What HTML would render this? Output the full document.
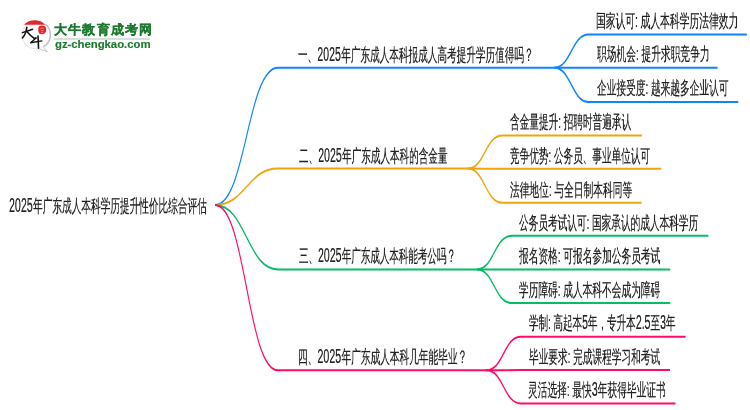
<!DOCTYPE html>
<html><head><meta charset="utf-8"><style>
html,body{margin:0;padding:0;background:#fff;}
body{width:750px;height:410px;position:relative;overflow:hidden;font-family:"Liberation Sans",sans-serif;}
svg.lines{position:absolute;left:0;top:0;}
svg.lines path{fill:none;stroke-width:2;}
.t{position:absolute;white-space:nowrap;font-size:18px;line-height:18px;height:18px;color:#222;-webkit-text-stroke:0.22px #222;transform-origin:0 0;will-change:transform;}
.t .d{font-size:20px;}
.logo{position:absolute;left:0;top:0;}
.brand{position:absolute;left:53.6px;top:21.6px;will-change:transform;font-size:12.5px;line-height:16px;letter-spacing:1.2px;font-weight:bold;color:#1C7A2E;-webkit-text-stroke:0.25px #1C7A2E;white-space:nowrap;}
.bline{position:absolute;left:54px;top:38.3px;width:96px;height:1.5px;background:#d6e1d9;}
.url{position:absolute;left:54.6px;top:37.6px;will-change:transform;font-size:11.4px;line-height:12px;letter-spacing:-0.05px;font-weight:bold;color:#1C7A2E;-webkit-text-stroke:0.15px #1C7A2E;white-space:nowrap;}
</style></head><body>
<svg class="logo" width="160" height="60" viewBox="0 0 160 60">
<circle cx="36" cy="35" r="14" fill="#fff" stroke="#dcdcdc" stroke-width="0.9"/>
<path d="M45.5,24 A14,14 0 0 1 43.5,46.8" fill="none" stroke="#b8b8b8" stroke-width="1.1"/>
<path d="M43,46.8 L47.4,51.8 L38.5,48.6" fill="#fff" stroke="#c4c4c4" stroke-width="0.9"/>
<path d="M24,24.7 A14.6,14.6 0 0 1 45.2,24.7 Z" fill="#E3262B"/>
<path d="M38.4,27.5 Q39,25.3 42.5,25.5 Q46.3,25.8 46.2,29.5 Q46.4,33.8 42.3,34.2 Q38.6,34.3 38.3,31 Z" fill="#E3262B"/>
<path d="M40.3,28.3 h3.5 M40.8,30.6 h3 M41.2,32.4 h2.2" stroke="#f4b8b8" stroke-width="0.6"/>
<g stroke="#111" fill="none" stroke-linecap="round" stroke-linejoin="round">
<path d="M22.4,32.6 Q27.5,31.2 32.6,29.2" stroke-width="1.5"/>
<path d="M26.8,27.2 Q26.3,33.5 22.4,38" stroke-width="1.6"/>
<path d="M27.3,32.1 Q30.5,35.8 34.1,38.4 L36,38" stroke-width="1.5"/>
<path d="M36,38 L30.7,42.8 L41.9,40.9" stroke-width="1.4"/>
<path d="M38,36 Q38.4,42 38.5,48.2" stroke-width="1.6"/>
</g>
</svg>
<div class="brand" id="brand">大牛教育成考网</div>
<div class="bline"></div>
<div class="url" id="url">gz-chengkao.com</div>
<svg class="lines" width="750" height="410" viewBox="0 0 750 410"><g transform="scale(0.538,1)">
<path d="M399.78,204.9 C457.26,204.9 459.20,67.7 516.69,67.7 L1029.93,67.7" stroke="#0C84FF"/>
<path d="M1029.93,67.7 C1062.08,67.7 1062.08,34.4 1094.24,34.4 L1388.10,34.4" stroke="#0C84FF"/>
<path d="M1029.93,67.7 C1062.08,67.7 1062.08,67.7 1094.24,67.7 L1333.83,67.7" stroke="#0C84FF"/>
<path d="M1029.93,67.7 C1062.08,67.7 1062.08,101.9 1094.24,101.9 L1372.30,101.9" stroke="#0C84FF"/>
<path d="M399.78,204.9 C457.26,204.9 459.20,168.6 516.69,168.6 L869.33,168.6" stroke="#F2A50A"/>
<path d="M869.33,168.6 C901.49,168.6 901.49,135.5 933.64,135.5 L1193.12,135.5" stroke="#F2A50A"/>
<path d="M869.33,168.6 C901.49,168.6 901.49,168.8 933.64,168.8 L1229.18,168.8" stroke="#F2A50A"/>
<path d="M869.33,168.6 C901.49,168.6 901.49,202.7 933.64,202.7 L1192.57,202.7" stroke="#F2A50A"/>
<path d="M399.78,204.9 C457.26,204.9 459.20,269.4 516.69,269.4 L886.43,269.4" stroke="#05BD68"/>
<path d="M886.43,269.4 C918.59,269.4 918.59,235.8 950.74,235.8 L1316.54,235.8" stroke="#05BD68"/>
<path d="M886.43,269.4 C918.59,269.4 918.59,269.5 950.74,269.5 L1245.72,269.5" stroke="#05BD68"/>
<path d="M886.43,269.4 C918.59,269.4 918.59,302.9 950.74,302.9 L1245.91,302.9" stroke="#05BD68"/>
<path d="M399.78,204.9 C457.26,204.9 459.20,370.3 516.69,370.3 L903.90,370.3" stroke="#FF0A6C"/>
<path d="M903.90,370.3 C936.06,370.3 936.06,336.7 968.22,336.7 L1274.35,336.7" stroke="#FF0A6C"/>
<path d="M903.90,370.3 C936.06,370.3 936.06,370.1 968.22,370.1 L1245.35,370.1" stroke="#FF0A6C"/>
<path d="M903.90,370.3 C936.06,370.3 936.06,403.4 968.22,403.4 L1255.58,403.4" stroke="#FF0A6C"/>
</g></svg>
<div class="t" id="root" style="left:8.70px;top:195.60px;transform:scaleX(0.5360)"><span class="d">2025</span>年广东成人本科学历提升性价比综合评估</div>
<div class="t" id="m1" style="left:298.00px;top:45.00px;transform:scaleX(0.5342)">一、<span class="d">2025</span>年广东成人本科报成人高考提升学历值得吗？</div>
<div class="t" id="s1a" style="left:596.10px;top:11.90px;transform:scaleX(0.5433)">国家认可: 成人本科学历法律效力</div>
<div class="t" id="s1b" style="left:596.70px;top:45.00px;transform:scaleX(0.5417)">职场机会: 提升求职竞争力</div>
<div class="t" id="s1c" style="left:596.70px;top:79.40px;transform:scaleX(0.5391)">企业接受度: 越来越多企业认可</div>
<div class="t" id="m2" style="left:298.80px;top:145.80px;transform:scaleX(0.5322)">二、<span class="d">2025</span>年广东成人本科的含金量</div>
<div class="t" id="s2a" style="left:510.20px;top:112.60px;transform:scaleX(0.5362)">含金量提升: 招聘时普遍承认</div>
<div class="t" id="s2b" style="left:510.20px;top:146.70px;transform:scaleX(0.5346)">竞争优势: 公务员、事业单位认可</div>
<div class="t" id="s2c" style="left:509.60px;top:181.00px;transform:scaleX(0.5407)">法律地位: 与全日制本科同等</div>
<div class="t" id="m3" style="left:298.60px;top:246.40px;transform:scaleX(0.5286)">三、<span class="d">2025</span>年广东成人本科能考公吗？</div>
<div class="t" id="s3a" style="left:519.40px;top:213.70px;transform:scaleX(0.5366)">公务员考试认可: 国家承认的成人本科学历</div>
<div class="t" id="s3b" style="left:519.40px;top:246.60px;transform:scaleX(0.5392)">报名资格: 可报名参加公务员考试</div>
<div class="t" id="s3c" style="left:519.00px;top:280.90px;transform:scaleX(0.5392)">学历障碍: 成人本科不会成为障碍</div>
<div class="t" id="m4" style="left:297.80px;top:347.20px;transform:scaleX(0.5372)">四、<span class="d">2025</span>年广东成人本科几年能毕业？</div>
<div class="t" id="s4a" style="left:529.10px;top:313.00px;transform:scaleX(0.5307)">学制: 高起本<span class="d">5</span>年，专升本<span class="d">2.5</span>至<span class="d">3</span>年</div>
<div class="t" id="s4b" style="left:529.10px;top:347.80px;transform:scaleX(0.5374)">毕业要求: 完成课程学习和考试</div>
<div class="t" id="s4c" style="left:528.10px;top:380.40px;transform:scaleX(0.5403)">灵活选择: 最快<span class="d">3</span>年获得毕业证书</div>
</body></html>
